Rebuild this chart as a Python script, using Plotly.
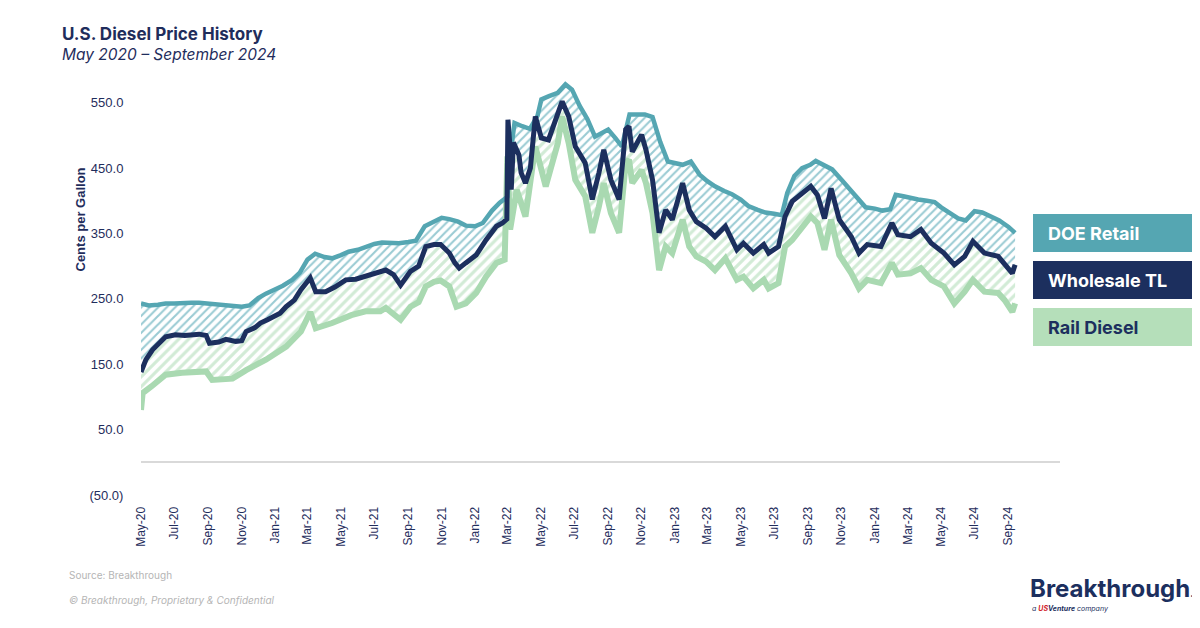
import plotly.graph_objects as go
import pandas as pd

# ---- data (cents per gallon) ----
doe_dates = [
    "2020-05-01", "2020-05-15", "2020-06-01", "2020-06-15", "2020-07-01", "2020-07-15",
    "2020-08-01", "2020-08-15", "2020-09-01", "2020-09-15", "2020-10-01", "2020-10-15",
    "2020-11-01", "2020-11-15", "2020-12-01", "2020-12-15", "2021-01-01", "2021-01-15",
    "2021-02-01", "2021-02-15", "2021-03-01", "2021-03-15", "2021-04-01", "2021-04-15",
    "2021-05-01", "2021-05-15", "2021-06-01", "2021-06-15", "2021-07-01", "2021-07-15",
    "2021-08-01", "2021-08-15", "2021-09-01", "2021-09-15", "2021-10-01", "2021-10-15",
    "2021-11-01", "2021-11-15", "2021-12-01", "2021-12-15", "2022-01-01", "2022-01-15",
    "2022-02-01", "2022-02-15", "2022-03-01", "2022-03-08", "2022-03-14", "2022-03-28",
    "2022-04-11", "2022-04-25", "2022-05-02", "2022-05-16", "2022-06-01", "2022-06-15",
    "2022-06-27", "2022-07-11", "2022-07-25", "2022-08-08", "2022-08-22", "2022-09-01",
    "2022-09-15", "2022-09-26", "2022-10-10", "2022-10-24", "2022-11-07", "2022-11-21",
    "2022-12-05", "2022-12-19", "2023-01-01", "2023-01-15", "2023-01-30", "2023-02-15",
    "2023-03-01", "2023-03-15", "2023-04-01", "2023-04-15", "2023-05-01", "2023-05-15",
    "2023-06-01", "2023-06-15", "2023-07-01", "2023-07-15", "2023-07-25", "2023-08-07",
    "2023-08-21", "2023-09-05", "2023-09-15", "2023-10-01", "2023-10-15", "2023-11-01",
    "2023-11-15", "2023-12-01", "2023-12-15", "2024-01-01", "2024-01-15", "2024-01-29",
    "2024-02-08", "2024-02-22", "2024-03-06", "2024-03-20", "2024-04-05", "2024-04-19",
    "2024-05-01", "2024-05-15", "2024-06-01", "2024-06-15", "2024-07-01", "2024-07-15",
    "2024-08-01", "2024-08-15", "2024-09-01", "2024-09-13",
]
doe_retail = [
    243, 240, 241, 243, 243, 244, 244, 244, 243, 242, 241, 240,
    238, 240, 251, 258, 264, 270, 279, 290, 310, 319, 314, 312,
    317, 322, 325, 330, 334, 336, 336, 335, 337, 339, 361, 367,
    374, 372, 368, 362, 361, 366, 385, 397, 406, 480, 519, 514,
    510, 530, 555, 560, 565, 578, 570, 545, 525, 498, 505, 509,
    495, 483, 532, 532, 532, 528, 490, 460, 458, 455, 460, 440,
    430, 422, 415, 410, 402, 392, 386, 382, 380, 378, 412, 438,
    450, 455, 461, 455, 448, 432, 418, 403, 390, 388, 385, 387,
    409, 407, 404, 402, 400, 398, 390, 382, 373, 370, 384, 382,
    376, 370, 360, 351,
]

ws_dates = [
    "2020-05-01", "2020-05-06", "2020-05-10", "2020-05-22", "2020-06-05", "2020-06-15",
    "2020-07-03", "2020-07-20", "2020-08-15", "2020-08-28", "2020-09-03", "2020-09-20",
    "2020-10-03", "2020-10-21", "2020-11-01", "2020-11-09", "2020-11-25", "2020-12-05",
    "2020-12-18", "2020-12-28", "2021-01-10", "2021-01-21", "2021-02-05", "2021-02-17",
    "2021-03-06", "2021-03-16", "2021-04-03", "2021-04-20", "2021-05-10", "2021-05-28",
    "2021-06-15", "2021-07-05", "2021-07-22", "2021-08-05", "2021-08-18", "2021-09-05",
    "2021-09-20", "2021-10-03", "2021-10-18", "2021-10-30", "2021-11-15", "2021-11-25",
    "2021-12-03", "2021-12-15", "2022-01-03", "2022-01-21", "2022-02-09", "2022-02-20",
    "2022-02-28", "2022-03-02", "2022-03-06", "2022-03-08", "2022-03-12", "2022-03-22",
    "2022-03-26", "2022-04-03", "2022-04-12", "2022-04-21", "2022-05-02", "2022-05-15",
    "2022-06-01", "2022-06-09", "2022-06-21", "2022-07-03", "2022-07-21", "2022-08-03",
    "2022-08-15", "2022-08-24", "2022-09-06", "2022-09-21", "2022-10-03", "2022-10-09",
    "2022-10-15", "2022-11-01", "2022-11-09", "2022-11-21", "2022-12-03", "2022-12-15",
    "2022-12-27", "2023-01-15", "2023-01-27", "2023-02-09", "2023-02-27", "2023-03-15",
    "2023-04-03", "2023-04-24", "2023-05-06", "2023-05-24", "2023-06-12", "2023-06-21",
    "2023-07-09", "2023-07-21", "2023-08-03", "2023-08-21", "2023-09-06", "2023-09-18",
    "2023-10-01", "2023-10-13", "2023-10-28", "2023-11-19", "2023-12-03", "2023-12-18",
    "2024-01-12", "2024-02-01", "2024-02-12", "2024-03-06", "2024-03-25", "2024-04-13",
    "2024-05-06", "2024-05-25", "2024-06-13", "2024-06-28", "2024-07-19", "2024-08-13",
    "2024-08-25", "2024-09-08", "2024-09-13",
]
wholesale_tl = [
    138, 150, 157, 172, 185, 192, 195, 194, 196, 194, 182, 184,
    188, 185, 186, 200, 206, 213, 218, 223, 228, 238, 248, 264,
    282, 261, 261, 268, 279, 280, 284, 290, 294, 287, 271, 292,
    300, 330, 333, 333, 320, 305, 297, 305, 317, 340, 361, 366,
    372, 524, 480, 417, 489, 470, 443, 427, 450, 529, 496, 493,
    537, 552, 529, 483, 458, 402, 442, 478, 432, 402, 509, 514,
    475, 501, 478, 432, 351, 386, 371, 427, 386, 368, 358, 345,
    361, 325, 335, 320, 333, 320, 330, 376, 399, 412, 422, 409,
    373, 419, 371, 345, 320, 333, 330, 366, 348, 345, 356, 335,
    320, 302, 315, 338, 320, 315, 302, 289, 302,
]

rail_dates = [
    "2020-05-01", "2020-05-04", "2020-05-20", "2020-06-15", "2020-07-15", "2020-08-01",
    "2020-08-28", "2020-09-08", "2020-10-15", "2020-11-09", "2020-12-15", "2021-01-21",
    "2021-02-17", "2021-03-06", "2021-03-16", "2021-04-15", "2021-05-20", "2021-06-15",
    "2021-07-12", "2021-07-22", "2021-08-18", "2021-09-05", "2021-09-20", "2021-10-03",
    "2021-10-18", "2021-10-30", "2021-11-15", "2021-11-28", "2021-12-15", "2022-01-03",
    "2022-01-21", "2022-02-09", "2022-02-24", "2022-03-01", "2022-03-06", "2022-03-18",
    "2022-04-03", "2022-04-21", "2022-05-10", "2022-06-01", "2022-06-09", "2022-06-21",
    "2022-07-03", "2022-07-21", "2022-08-03", "2022-08-15", "2022-08-24", "2022-09-06",
    "2022-09-21", "2022-10-03", "2022-10-09", "2022-10-15", "2022-11-01", "2022-11-09",
    "2022-11-21", "2022-12-03", "2022-12-15", "2022-12-27", "2023-01-15", "2023-01-27",
    "2023-02-09", "2023-02-27", "2023-03-15", "2023-04-03", "2023-04-24", "2023-05-06",
    "2023-05-24", "2023-06-12", "2023-06-21", "2023-07-09", "2023-07-21", "2023-08-03",
    "2023-08-21", "2023-09-06", "2023-09-18", "2023-10-01", "2023-10-13", "2023-10-28",
    "2023-11-19", "2023-12-03", "2023-12-18", "2024-01-12", "2024-02-01", "2024-02-12",
    "2024-03-06", "2024-03-25", "2024-04-13", "2024-05-06", "2024-05-25", "2024-06-13",
    "2024-06-28", "2024-07-19", "2024-08-13", "2024-08-25", "2024-09-08", "2024-09-13",
]
rail_diesel = [
    80, 106, 116, 134, 137, 138, 139, 126, 128, 141, 157, 177,
    200, 230, 205, 213, 225, 231, 231, 236, 218, 238, 245, 269,
    276, 278, 269, 238, 243, 259, 284, 305, 310, 468, 356, 417,
    376, 483, 422, 488, 529, 488, 432, 407, 351, 391, 427, 381,
    351, 458, 463, 427, 447, 427, 381, 294, 330, 320, 371, 330,
    315, 307, 294, 312, 279, 284, 266, 279, 266, 274, 330, 340,
    358, 376, 366, 325, 371, 317, 289, 266, 279, 274, 305, 287,
    289, 297, 279, 269, 243, 261, 279, 261, 259, 248, 230, 243,
]

y_ticks = [-50, 50, 150, 250, 350, 450, 550]
y_tick_labels = ["(50.0)", "50.0", "150.0", "250.0", "350.0", "450.0", "550.0"]
x_ticks = pd.date_range("2020-05-01", "2024-09-01", freq="2MS")

NAVY = "#1C2F5E"
TEAL = "#55A6B2"
GREEN = "#A9D9B1"
TEXT = "#1F2D5C"

# page sits inside the default 8px body margin, so work in page pixels and shift
OFF = 8
W, H = 1200 - OFF, 628 - 2 * OFF
L, R, T, B = 141 - OFF, 1060 - OFF, 70 - OFF, 495 - OFF


def px(x):
    return (x - OFF - L) / (R - L)


def py(y):
    return (B - (y - OFF)) / (B - T)


fig = go.Figure()

# hatched bands (fill only)
fig.add_trace(go.Scatter(x=rail_dates, y=rail_diesel, mode="lines",
                         line=dict(width=0, color=GREEN), hoverinfo="skip"))
fig.add_trace(go.Scatter(x=ws_dates, y=wholesale_tl, mode="lines", fill="tonexty",
                         line=dict(width=0, color=GREEN), fillcolor="rgba(0,0,0,0)",
                         fillpattern=dict(shape="/", fgcolor="#A5D7AE", bgcolor="rgba(0,0,0,0)",
                                          size=7, solidity=0.45),
                         hoverinfo="skip"))
fig.add_trace(go.Scatter(x=doe_dates, y=doe_retail, mode="lines", fill="tonexty",
                         line=dict(width=0, color=TEAL), fillcolor="rgba(0,0,0,0)",
                         fillpattern=dict(shape="/", fgcolor="#3597A8", bgcolor="rgba(0,0,0,0)",
                                          size=6, solidity=0.35),
                         hoverinfo="skip"))

# lines
fig.add_trace(go.Scatter(x=rail_dates, y=rail_diesel, mode="lines", name="Rail Diesel",
                         line=dict(width=6, color=GREEN)))
fig.add_trace(go.Scatter(x=doe_dates, y=doe_retail, mode="lines", name="DOE Retail",
                         line=dict(width=4.5, color=TEAL)))
fig.add_trace(go.Scatter(x=ws_dates, y=wholesale_tl, mode="lines", name="Wholesale TL",
                         line=dict(width=5, color=NAVY)))

fig.update_xaxes(range=["2020-05-01", "2024-12-04"], tickmode="array", tickvals=x_ticks,
                 tickformat="%b-%y", tickangle=-90, showgrid=False, showline=False,
                 ticks="outside", ticklen=6, tickcolor="rgba(0,0,0,0)",
                 tickfont=dict(family="Liberation Sans, Arial", size=12, color=TEXT))
fig.update_yaxes(range=[-50, 600], tickmode="array", tickvals=y_ticks, ticktext=y_tick_labels,
                 showgrid=False, showline=False, zeroline=True, zerolinecolor="#D9D9D9",
                 zerolinewidth=2, ticks="outside", ticklen=14, tickcolor="rgba(0,0,0,0)",
                 tickfont=dict(family="Liberation Sans, Arial", size=13, color=TEXT))

ann = [
    dict(x=px(60), y=py(34), text="<b>U.S. Diesel Price History</b>", xanchor="left",
         font=dict(family="Inter", size=17, color=TEXT)),
    dict(x=px(60), y=py(55), text="<i>May 2020 – September 2024</i>", xanchor="left",
         font=dict(family="Inter", size=15.5, color=TEXT)),
    dict(x=px(70), y=py(220), text="<b>Cents per Gallon</b>", textangle=-90,
         font=dict(family="Liberation Sans, Arial", size=13, color=TEXT)),
    dict(x=px(67), y=py(575), text="Source: Breakthrough", xanchor="left",
         font=dict(family="Inter", size=10, color="#B5B5B5")),
    dict(x=px(67), y=py(600), text="<i>© Breakthrough, Proprietary & Confidential</i>",
         xanchor="left", font=dict(family="Inter", size=10, color="#B5B5B5")),
    dict(x=px(1028), y=py(588), text="<b>Breakthrough</b><span style='font-size:9px'>.</span>",
         xanchor="left", font=dict(family="Inter", size=24, color=NAVY, weight=900)),
    dict(x=px(1030), y=py(608),
         text="<i>a <span style='color:#D1232A'><b>US</b></span><b>Venture</b> company</i>",
         xanchor="left", font=dict(family="Inter", size=7, color=NAVY)),
]

legend_items = [
    ("DOE Retail", TEAL, "white", 214, 252),
    ("Wholesale TL", NAVY, "white", 261, 299),
    ("Rail Diesel", "#B5DFBA", NAVY, 308, 346),
]
shapes = []
for label, bg, fg, y0, y1 in legend_items:
    shapes.append(dict(type="rect", xref="paper", yref="paper", x0=px(1033), x1=px(1197),
                       y0=py(y1), y1=py(y0), fillcolor=bg, line=dict(width=0), layer="above"))
    ann.append(dict(x=px(1046), y=py((y0 + y1) / 2), text="<b>" + label + "</b>",
                    xanchor="left", font=dict(family="Inter", size=18, color=fg)))

for a in ann:
    a.setdefault("xref", "paper")
    a.setdefault("yref", "paper")
    a.setdefault("yanchor", "middle")
    a.setdefault("showarrow", False)

fig.update_layout(
    width=W, height=H,
    margin=dict(l=L, r=W - R, t=T, b=H - B),
    paper_bgcolor="white", plot_bgcolor="white",
    showlegend=False, hovermode=False,
    annotations=ann, shapes=shapes,
)

fig.write_html("out.html")
